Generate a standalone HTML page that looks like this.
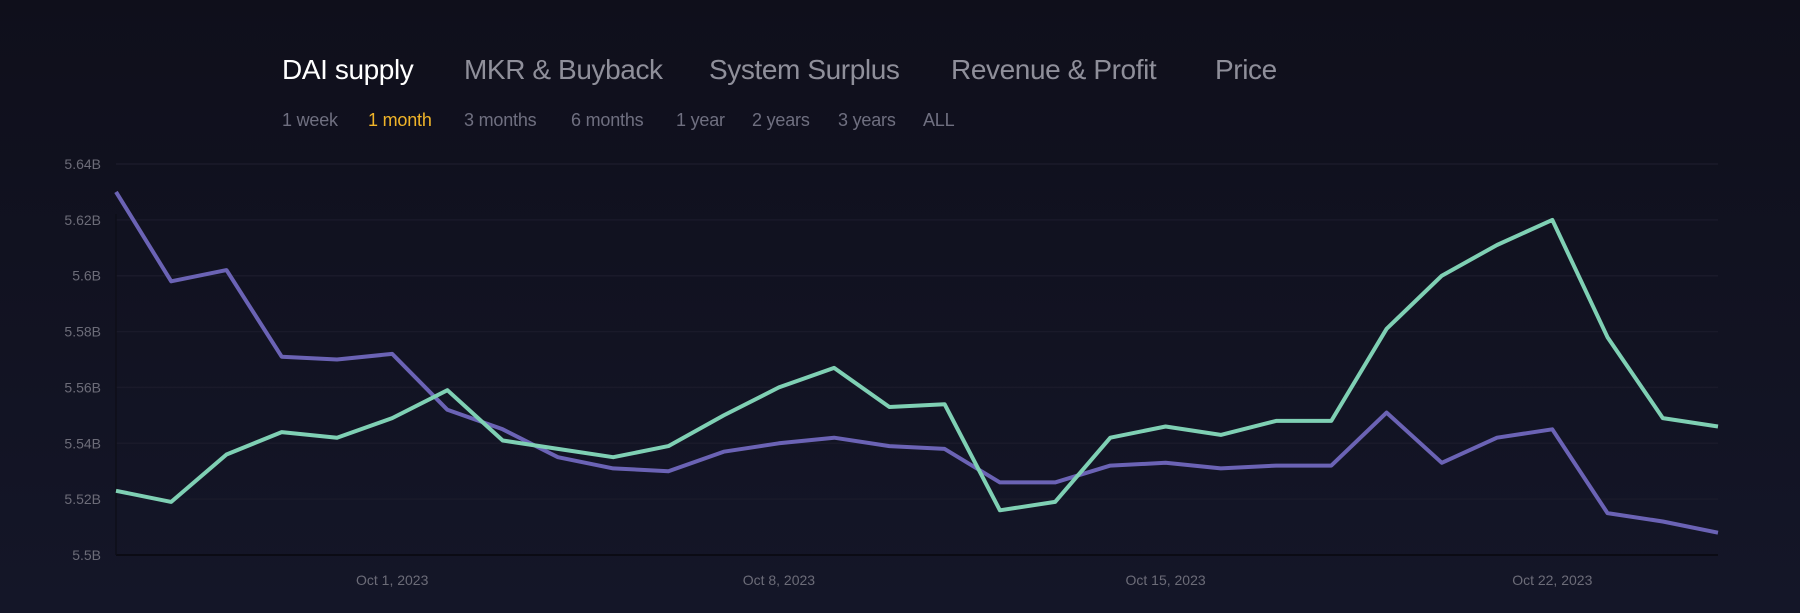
<!DOCTYPE html>
<html><head><meta charset="utf-8"><style>
html,body{margin:0;padding:0;width:1800px;height:613px;overflow:hidden;background:linear-gradient(#0f0f1b,#141628);font-family:"Liberation Sans",sans-serif}
.tab{position:absolute;top:54px;font-size:28px;color:#8f8f9a;white-space:nowrap;letter-spacing:-0.4px}
.tab.active{color:#fff}
.per{position:absolute;top:110px;font-size:18px;color:#6f6f80;white-space:nowrap;letter-spacing:-0.2px}
.per.active{color:#f0b429}
svg{position:absolute;left:0;top:0}
</style></head><body>
<div class="tab active" style="left:282px">DAI supply</div>
<div class="tab" style="left:464px">MKR &amp; Buyback</div>
<div class="tab" style="left:709px">System Surplus</div>
<div class="tab" style="left:951px">Revenue &amp; Profit</div>
<div class="tab" style="left:1215px">Price</div>
<div class="per" style="left:282px">1 week</div>
<div class="per active" style="left:368px">1 month</div>
<div class="per" style="left:464px">3 months</div>
<div class="per" style="left:571px">6 months</div>
<div class="per" style="left:676px">1 year</div>
<div class="per" style="left:752px">2 years</div>
<div class="per" style="left:838px">3 years</div>
<div class="per" style="left:923px">ALL</div>
<svg id="chart" width="1800" height="613"></svg>
<script>
const yTicks = [5.5,5.52,5.54,5.56,5.58,5.6,5.62,5.64];
const yTickLabels = ["5.5B","5.52B","5.54B","5.56B","5.58B","5.6B","5.62B","5.64B"];
const xTickDays = [5,12,19,26];
const xTickLabels = ["Oct 1, 2023","Oct 8, 2023","Oct 15, 2023","Oct 22, 2023"];
const purpleValues = [5.630,5.598,5.602,5.571,5.570,5.572,5.552,5.545,5.535,5.531,5.530,5.537,5.540,5.542,5.539,5.538,5.526,5.526,5.532,5.533,5.531,5.532,5.532,5.551,5.533,5.542,5.545,5.515,5.512,5.508];
const greenValues = [5.523,5.519,5.536,5.544,5.542,5.549,5.559,5.541,5.538,5.535,5.539,5.550,5.560,5.567,5.553,5.554,5.516,5.519,5.542,5.546,5.543,5.548,5.548,5.581,5.600,5.611,5.620,5.578,5.549,5.546];

const svg = document.getElementById('chart');
const NS = 'http://www.w3.org/2000/svg';
const L=116,R=1718,T=164,B=555,yMin=5.5,yMax=5.64,nDays=29;
function x(i){return L+(R-L)*i/nDays;}
function y(v){return B-(v-yMin)/(yMax-yMin)*(B-T);}
function mk(tag,attrs){const e=document.createElementNS(NS,tag);for(const k in attrs)e.setAttribute(k,attrs[k]);svg.appendChild(e);return e;}
yTicks.forEach((v,i)=>{
  if(i>0){const g=mk('line',{x1:L,x2:R,y1:y(v),y2:y(v),stroke:'#1a1a2a','stroke-width':1.5});
  
  }
  const t=mk('text',{x:101,y:y(v)+5,'text-anchor':'end',fill:'#6c6c78','font-size':14,'font-family':'Liberation Sans, sans-serif'});
  t.textContent=yTickLabels[i];
  
  
});
const ax=mk('line',{x1:L,x2:R,y1:B,y2:B,stroke:'#0b0b14','stroke-width':2});


const ay=mk('line',{x1:L,x2:L,y1:T+50,y2:B,stroke:'#0e0e18','stroke-width':1.5});


xTickDays.forEach((d,i)=>{
  const t=mk('text',{x:x(d),y:585,'text-anchor':'middle',fill:'#6c6c78','font-size':14,'font-family':'Liberation Sans, sans-serif'});
  t.textContent=xTickLabels[i];
  
  
});
function line(vals,color,name){
  const d=vals.map((v,i)=>(i?'L':'M')+x(i).toFixed(1)+' '+y(v).toFixed(1)).join(' ');
  const p=mk('path',{d:d,fill:'none',stroke:color,'stroke-width':4,'stroke-linejoin':'round','stroke-linecap':'butt'});
  
  
}
line(purpleValues,'#6b63b5','purple-series-line');
line(greenValues,'#7fd0b4','green-series-line');
</script>
</body></html>
